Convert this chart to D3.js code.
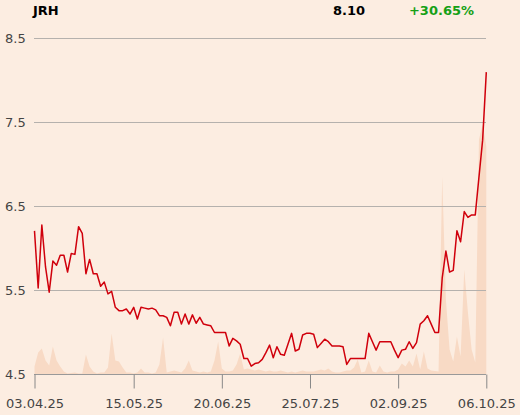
<!DOCTYPE html>
<html>
<head>
<meta charset="utf-8">
<script src="https://cdn.jsdelivr.net/npm/d3@7"></script>
<style>
  html, body { margin: 0; padding: 0; background: #fcede1; }
  svg { display: block; }
</style>
</head>
<body>
<svg id="chart" width="520" height="415"></svg>
<script>
const symbol = "JRH";
const lastPrice = "8.10";
const changeText = "+30.65%";

const prices = [
  6.21, 5.53, 6.28, 5.78, 5.48, 5.85, 5.80, 5.92, 5.92, 5.72,
  5.94, 5.93, 6.26, 6.18, 5.70, 5.87, 5.70, 5.70, 5.55, 5.60,
  5.46, 5.49, 5.30, 5.26, 5.26, 5.28, 5.22, 5.30, 5.16, 5.30,
  5.29, 5.28, 5.29, 5.27, 5.20, 5.20, 5.18, 5.08, 5.24, 5.24,
  5.10, 5.22, 5.10, 5.21, 5.11, 5.18, 5.10, 5.09, 5.08, 5.00,
  5.00, 5.00, 5.00, 4.84, 4.93, 4.90, 4.86, 4.69, 4.69, 4.60,
  4.63, 4.64, 4.68, 4.76, 4.85, 4.70, 4.83, 4.74, 4.73, 4.86,
  4.99, 4.78, 4.80, 4.97, 4.99, 4.99, 4.98, 4.82, 4.87, 4.92,
  4.89, 4.84, 4.84, 4.84, 4.83, 4.62, 4.69, 4.69, 4.69, 4.69,
  4.69, 4.99, 4.89, 4.79, 4.89, 4.89, 4.89, 4.89, 4.79, 4.70,
  4.79, 4.80, 4.89, 4.81, 4.88, 5.10, 5.14, 5.20, 5.10, 5.00,
  5.00, 5.65, 5.97, 5.72, 5.74, 6.21, 6.08, 6.44, 6.37, 6.40,
  6.40, 6.85, 7.29, 8.10
];

const volumes = [
  8, 22, 26, 14, 9, 28, 14, 8, 3, 1,
  1.5, 2, 1, 1, 20, 8, 3, 1, 2, 2,
  7, 41, 14, 13, 7, 2, 2, 1, 2, 6,
  2, 2, 1, 2, 10, 37, 2, 3, 4, 3,
  2, 6, 14, 4, 3, 2, 3, 2, 3, 14,
  33, 6, 3, 3, 4, 10, 21, 5, 6, 5,
  4, 5, 4, 3, 4, 3, 3, 4, 3, 2,
  3, 2, 3, 4, 3, 3, 3, 4, 5, 4,
  6, 3, 2, 2, 3, 4, 4, 7, 15, 2,
  3, 14, 3, 2, 9, 3, 2, 3, 3, 5,
  11, 8, 14, 8, 21, 5, 23, 6, 4, 3.5,
  3, 198, 75, 25, 13, 38, 18, 105, 62, 25,
  12, 235, 250, 228
];

const yTicks = [4.5, 5.5, 6.5, 7.5, 8.5];
const tickIndex = [0, 27, 51, 75, 99, 123];
const tickLabels = ["03.04.25", "15.05.25", "20.06.25", "25.07.25", "02.09.25", "06.10.25"];

const svg = d3.select("#chart");
const W = 520, H = 415;
const mLeft = 34.5, mRight = 486.3, mTop = 38.5, mBottom = 374.5;

svg.append("rect").attr("width", W).attr("height", H).attr("fill", "#fcede1");

const x = d3.scaleLinear().domain([0, prices.length - 1]).range([mLeft, mRight]);
const y = d3.scaleLinear().domain([4.5, 8.5]).range([mBottom, mTop]);
const yv = d3.scaleLinear().domain([0, 260]).range([mBottom, mBottom - 260]);

// volume area
const area = d3.area()
  .x((d, i) => x(i))
  .y0(mBottom)
  .y1(d => yv(d));
svg.append("path")
  .datum(volumes)
  .attr("d", area)
  .attr("fill", "#f8dac5");

// gridlines
svg.append("g")
  .selectAll("line")
  .data(yTicks.filter(t => t !== 4.5))
  .join("line")
  .attr("x1", 34).attr("x2", 486)
  .attr("y1", d => y(d))
  .attr("y2", d => y(d))
  .attr("stroke", "#b5b1ad")
  .attr("stroke-width", 1);

// y labels
svg.append("g")
  .selectAll("text")
  .data(yTicks)
  .join("text")
  .attr("x", 5)
  .attr("y", d => y(d))
  .attr("dy", "0.35em")
  .attr("font-family", "DejaVu Sans, sans-serif")
  .attr("font-size", 13)
  .attr("fill", "#444")
  .text(d => d3.format(".1f")(d));

// price line
const line = d3.line().x((d, i) => x(i)).y(d => y(d));
svg.append("path")
  .datum(prices)
  .attr("d", line)
  .attr("fill", "none")
  .attr("stroke", "#d0000c")
  .attr("stroke-width", 1.5)
  .attr("stroke-linejoin", "round");

// x axis
const xAxis = d3.axisBottom(x)
  .tickValues(tickIndex)
  .tickFormat((d, i) => tickLabels[i])
  .tickSize(14)
  .tickSizeOuter(0)
  .tickPadding(10);
const gx = svg.append("g")
  .attr("transform", `translate(0,${mBottom})`)
  .call(xAxis);
gx.select(".domain").attr("stroke", "#999").attr("d", "M34,0H486");
gx.selectAll(".tick line").attr("stroke", "#888");
gx.selectAll(".tick text")
  .attr("font-family", "DejaVu Sans, sans-serif")
  .attr("font-size", 13)
  .attr("fill", "#444");

// header
svg.append("text")
  .attr("x", 33).attr("y", 14.5)
  .attr("font-family", "DejaVu Sans, sans-serif")
  .attr("font-weight", "bold")
  .attr("font-size", 13)
  .attr("fill", "#000")
  .text(symbol);
svg.append("text")
  .attr("x", 365).attr("y", 14.5)
  .attr("text-anchor", "end")
  .attr("font-family", "DejaVu Sans, sans-serif")
  .attr("font-weight", "bold")
  .attr("font-size", 13)
  .attr("fill", "#000")
  .text(lastPrice);
svg.append("text")
  .attr("x", 474).attr("y", 14.5)
  .attr("text-anchor", "end")
  .attr("font-family", "DejaVu Sans, sans-serif")
  .attr("font-weight", "bold")
  .attr("font-size", 13)
  .attr("fill", "#15a015")
  .text(changeText);
</script>
</body>
</html>
